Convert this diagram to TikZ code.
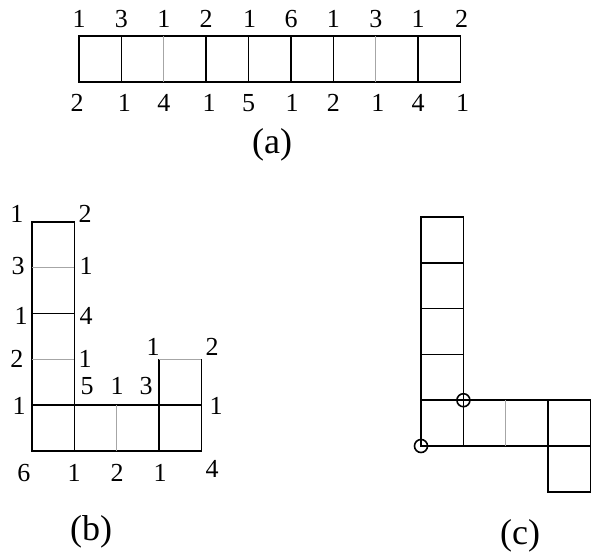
\documentclass[tikz,border=0pt]{standalone}
\usepackage{fontspec}
\setmainfont{Liberation Serif}
\tikzset{
  cell/.style={line width=0.8pt},
  faint/.style={line width=0.6pt, gray!70},
  num/.style={font=\rmfamily\fontsize{13}{15}\selectfont, inner sep=0pt},
  caption/.style={font=\rmfamily\fontsize{18}{20}\selectfont, inner sep=0pt}
}
\begin{document}
\begin{tikzpicture}[x=0.5pt, y=-0.5pt]
    \useasboundingbox (0,0) rectangle (592,556);
    % Parameters
    \def\cw{42.4}
    \def\ch{45.8}
    \def\topy{-17}
    \def\boty{67}

    % Strip (a)
    \begin{scope}[shift={(79,36)}]
      \draw[cell] (0,0) rectangle (9*\cw,\ch);
      \draw[cell] (\cw,0) -- (\cw,\ch);
      \draw[faint] (2*\cw,0) -- (2*\cw,\ch);
      \draw[cell] (3*\cw,0) -- (3*\cw,\ch);
      \draw[cell] (4*\cw,0) -- (4*\cw,\ch);
      \draw[cell] (5*\cw,0) -- (5*\cw,\ch);
      \draw[cell] (6*\cw,0) -- (6*\cw,\ch);
      \draw[faint] (7*\cw,0) -- (7*\cw,\ch);
      \draw[cell] (8*\cw,0) -- (8*\cw,\ch);
      \node[num] (at0) at (0,\topy) {1};
      \node[num] (at1) at (\cw,\topy) {3};
      \node[num] (at2) at (2*\cw,\topy) {1};
      \node[num] (at3) at (3*\cw,\topy) {2};
      \node[num] (at4) at (4*\cw+1,\topy) {1};
      \node[num] (at5) at (5*\cw,\topy) {6};
      \node[num] (at6) at (6*\cw,\topy) {1};
      \node[num] (at7) at (7*\cw,\topy) {3};
      \node[num] (at8) at (8*\cw,\topy) {1};
      \node[num] (at9) at (9*\cw+1,\topy) {2};
      \node[num] (ab0) at (-2,\boty) {2};
      \node[num] (ab1) at (\cw+3,\boty) {1};
      \node[num] (ab2) at (2*\cw,\boty) {4};
      \node[num] (ab3) at (3*\cw+3,\boty) {1};
      \node[num] (ab4) at (4*\cw,\boty) {5};
      \node[num] (ab5) at (5*\cw+1,\boty) {1};
      \node[num] (ab6) at (6*\cw,\boty) {2};
      \node[num] (ab7) at (7*\cw+2,\boty) {1};
      \node[num] (ab8) at (8*\cw,\boty) {4};
      \node[num] (ab9) at (9*\cw+2,\boty) {1};
    \end{scope}
    \node[caption] (capa) at (272,145) {(a)};

    % L shape (b)
    \begin{scope}[shift={(32,222)}]
      \draw[cell] (0,0) rectangle (\cw,5*\ch);
      \draw[faint] (0,\ch) -- (\cw,\ch);
      \draw[cell] (0,2*\ch) -- (\cw,2*\ch);
      \draw[faint] (0,3*\ch) -- (\cw,3*\ch);
      \draw[cell] (0,4*\ch) -- (4*\cw,4*\ch) -- (4*\cw,5*\ch) -- (\cw,5*\ch);
      \draw[faint] (2*\cw,4*\ch) -- (2*\cw,5*\ch);
      \draw[cell] (3*\cw,3*\ch) -- (3*\cw,5*\ch);
      \draw[faint] (3*\cw,3*\ch) -- (4*\cw,3*\ch);
      \draw[cell] (4*\cw,3*\ch) -- (4*\cw,4*\ch);
      \node[num] (bl0) at (-15,-8) {1};
      \node[num] (br0) at (53,-8) {2};
      \node[num] (bl1) at (-14,44) {3};
      \node[num] (br1) at (54,44) {1};
      \node[num] (bl2) at (-11,94) {1};
      \node[num] (br2) at (54,94) {4};
      \node[num] (bl3) at (-15,137) {2};
      \node[num] (br3) at (53,137) {1};
      \node[num] (bl4) at (-13,184) {1};
      \node[num] (bm1) at (55,164) {5};
      \node[num] (bm2) at (85,164) {1};
      \node[num] (bm3) at (114,164) {3};
      \node[num] (bsl) at (121,125) {1};
      \node[num] (bsr) at (180,125) {2};
      \node[num] (bsb) at (184,184) {1};
      \node[num] (bb0) at (-8,251) {6};
      \node[num] (bb1) at (42,251) {1};
      \node[num] (bb2) at (85,251) {2};
      \node[num] (bb3) at (128,251) {1};
      \node[num] (bb4) at (180,247) {4};
    \end{scope}
    \node[caption] (capb) at (91,532) {(b)};

    % L shape (c)
    \begin{scope}[shift={(421,217)}]
      \draw[cell] (0,0) rectangle (\cw,5*\ch);
      \draw[cell] (0,\ch) -- (\cw,\ch);
      \draw[cell] (0,2*\ch) -- (\cw,2*\ch);
      \draw[cell] (0,3*\ch) -- (\cw,3*\ch);
      \draw[cell] (0,4*\ch) -- (4*\cw,4*\ch) -- (4*\cw,6*\ch) -- (3*\cw,6*\ch) -- (3*\cw,4*\ch);
      \draw[cell] (\cw,5*\ch) -- (4*\cw,5*\ch);
      \draw[faint] (2*\cw,4*\ch) -- (2*\cw,5*\ch);
      \draw[cell] (0,5*\ch) circle (6.5);
      \draw[cell] (\cw,4*\ch) circle (6.5);
    \end{scope}
    \node[caption] (capc) at (520,536) {(c)};
  \end{tikzpicture}
\end{document}
